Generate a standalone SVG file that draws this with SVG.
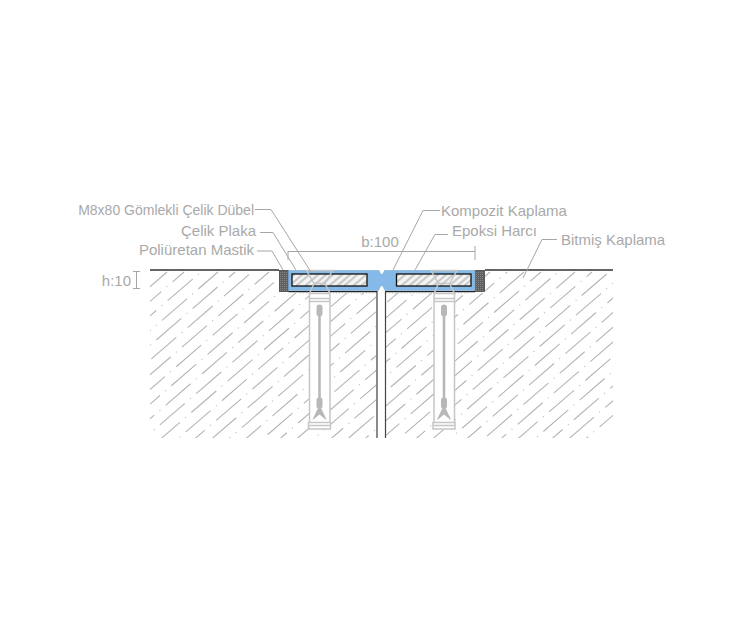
<svg xmlns="http://www.w3.org/2000/svg" width="750" height="635" viewBox="0 0 750 635">
<style>
text{font-family:"Liberation Sans",Arial,sans-serif;font-size:15px;fill:#a9a9a9}
.ld{fill:none;stroke:#a6a6a6;stroke-width:1}
.h path{stroke:#b4b4b4;stroke-width:1.100;fill:none;stroke-dasharray:33 7 1 7}
.dw{fill:none;stroke:#c6c6c6;stroke-width:1.500}
.rod{fill:#b8b8b8;stroke:none}
.plate{fill:#85b9e7;stroke:#7ca8d0;stroke-width:.6}
.ep{fill:url(#epoxy);stroke:#111;stroke-width:1.300}
.ms{fill:url(#mastic);stroke:#444;stroke-width:.8}
</style>
<defs>
<clipPath id="cc"><path d="M150 270H279V293H376V438H150ZM386 293H485V270H613V438H386Z"/></clipPath>
<pattern id="epoxy" width="24" height="12" patternUnits="userSpaceOnUse" x="292" y="274">
<rect width="24" height="12" fill="#f4f4f4"/>
<path d="M-3 12L11 0M4 12L18 0M13 12L27 0M21 12L35 0M-11 12L3 0" stroke="#cbcbcb" stroke-width="2.200" fill="none"/>
</pattern>
<pattern id="mastic" width="2" height="2" patternUnits="userSpaceOnUse">
<rect width="2" height="2" fill="#5f5f5f"/>
<rect width="1" height="1" fill="#858585"/>
</pattern>
<g id="dowelShape">
<rect x="-10" y="22" width="20.500" height="137" fill="#fff" stroke="none"/>
<path class="dw" d="M-10 23V152M10.500 23V152M-10 28H10.500M-10 31H10.500"/>
<path class="dw" d="M-13 0H13L5.500 13H-5.500ZM-5.500 13L-10 23H10.500L5.500 13"/>
<path class="dw" d="M-11 152H11V158.500H-11ZM-11 155H11"/>
<rect class="rod" x="-3" y="34" width="6" height="12" rx="3"/>
<rect class="rod" x="-1.300" y="45" width="2.600" height="84"/>
<rect class="rod" x="-3" y="127" width="6" height="11" rx="2.500"/>
<path class="rod" d="M-1.300 137H1.300L7 149H6L0 144L-6 149H-7Z"/>
</g>
</defs>

<g id="concrete">
<rect x="150" y="270" width="463" height="168" fill="#fff" clip-path="url(#cc)"/>
<g class="h" clip-path="url(#cc)">
<path stroke-dashoffset="0" d="M167 272L0 416"/>
<path stroke-dashoffset="18" d="M184 272L0 431"/>
<path stroke-dashoffset="37" d="M201 272L0 445"/>
<path stroke-dashoffset="7" d="M218 272L20 443"/>
<path stroke-dashoffset="25" d="M235 272L37 443"/>
<path stroke-dashoffset="44" d="M252 272L54 443"/>
<path stroke-dashoffset="14" d="M269 272L71 443"/>
<path stroke-dashoffset="32" d="M286 272L88 443"/>
<path stroke-dashoffset="3" d="M303 272L105 443"/>
<path stroke-dashoffset="21" d="M320 272L122 443"/>
<path stroke-dashoffset="39" d="M337 272L139 443"/>
<path stroke-dashoffset="10" d="M354 272L156 443"/>
<path stroke-dashoffset="28" d="M371 272L173 443"/>
<path stroke-dashoffset="46" d="M388 272L190 443"/>
<path stroke-dashoffset="17" d="M405 272L207 443"/>
<path stroke-dashoffset="35" d="M422 272L224 443"/>
<path stroke-dashoffset="5" d="M439 272L241 443"/>
<path stroke-dashoffset="24" d="M456 272L258 443"/>
<path stroke-dashoffset="42" d="M473 272L275 443"/>
<path stroke-dashoffset="12" d="M490 272L292 443"/>
<path stroke-dashoffset="31" d="M507 272L309 443"/>
<path stroke-dashoffset="1" d="M524 272L326 443"/>
<path stroke-dashoffset="19" d="M541 272L343 443"/>
<path stroke-dashoffset="38" d="M558 272L360 443"/>
<path stroke-dashoffset="8" d="M575 272L377 443"/>
<path stroke-dashoffset="26" d="M592 272L394 443"/>
<path stroke-dashoffset="45" d="M609 272L411 443"/>
<path stroke-dashoffset="15" d="M626 272L428 443"/>
<path stroke-dashoffset="34" d="M643 272L445 443"/>
<path stroke-dashoffset="4" d="M660 272L462 443"/>
<path stroke-dashoffset="22" d="M677 272L479 443"/>
<path stroke-dashoffset="40" d="M694 272L496 443"/>
<path stroke-dashoffset="11" d="M711 272L513 443"/>
<path stroke-dashoffset="29" d="M728 272L530 443"/>
<path stroke-dashoffset="47" d="M745 272L547 443"/>
<path stroke-dashoffset="18" d="M762 272L564 443"/>
<path stroke-dashoffset="36" d="M779 272L581 443"/>
</g>
<path d="M150 270H279M485 270H613" stroke="#333" stroke-width="1.300" fill="none"/>
<path d="M377 291V438" stroke="#777" stroke-width="1.700" fill="none"/>
<path d="M385.500 291V438" stroke="#444" stroke-width="1.200" fill="none"/>
</g>

<g id="mastic-left"><rect class="ms" x="279.500" y="270.500" width="9" height="21"/></g>
<g id="mastic-right"><rect class="ms" x="475" y="270.500" width="9.500" height="21"/></g>

<g id="steel-plate">
<path class="plate" d="M288.500 270.500H379L380 273L381.800 274.500L383.500 273L384.500 270.500H475V290.500H385L383.500 287L381.800 285.500L380 287L378.500 290.500H288.500Z"/>
<path d="M288.500 291.700H377M385.500 291.700H475" stroke="#222" stroke-width="1.200" fill="none"/>
<path d="M300 293H376M386 293H470" stroke="#bbb" stroke-width="1" stroke-dasharray="1 2" fill="none"/>
</g>
<g id="epoxy-left"><rect class="ep" x="292" y="274" width="75" height="12"/></g>
<g id="epoxy-right"><rect class="ep" x="396.500" y="274" width="74.500" height="12"/></g>

<g id="dowel-left"><use href="#dowelShape" transform="translate(319.500 270.500)"/></g>
<g id="dowel-right"><use href="#dowelShape" transform="translate(444 270.500)"/></g>

<g id="connectors">
<path class="ld" d="M255 209.500H271L311 272"/>
<path class="ld" d="M260 232.500H273L296 270"/>
<path class="ld" d="M257 251H272L283 270"/>
<path class="ld" d="M440 210.500H423L393 270"/>
<path class="ld" d="M448 234.500H435L415 270"/>
<path class="ld" d="M557 239.500H542L523 278"/>
<path class="ld" d="M288 251V260M288 251.500H475M475 246V260"/>
<path class="ld" d="M133 271.500H140M136.500 271.500V288.500M133 288.500H140"/>
</g>

<g id="labels">
<text x="254" y="214.500" text-anchor="end" style="font-size:14px">M8x80 Gömlekli Çelik Dübel</text>
<text x="256" y="236" text-anchor="end">Çelik Plaka</text>
<text x="254" y="255" text-anchor="end">Poliüretan Mastik</text>
<text x="441" y="216">Kompozit Kaplama</text>
<text x="452" y="236">Epoksi Harcı</text>
<text x="561" y="245">Bitmiş Kaplama</text>
<text x="380" y="246.500" text-anchor="middle">b:100</text>
<text x="131" y="285.500" text-anchor="end">h:10</text>
</g>
</svg>
